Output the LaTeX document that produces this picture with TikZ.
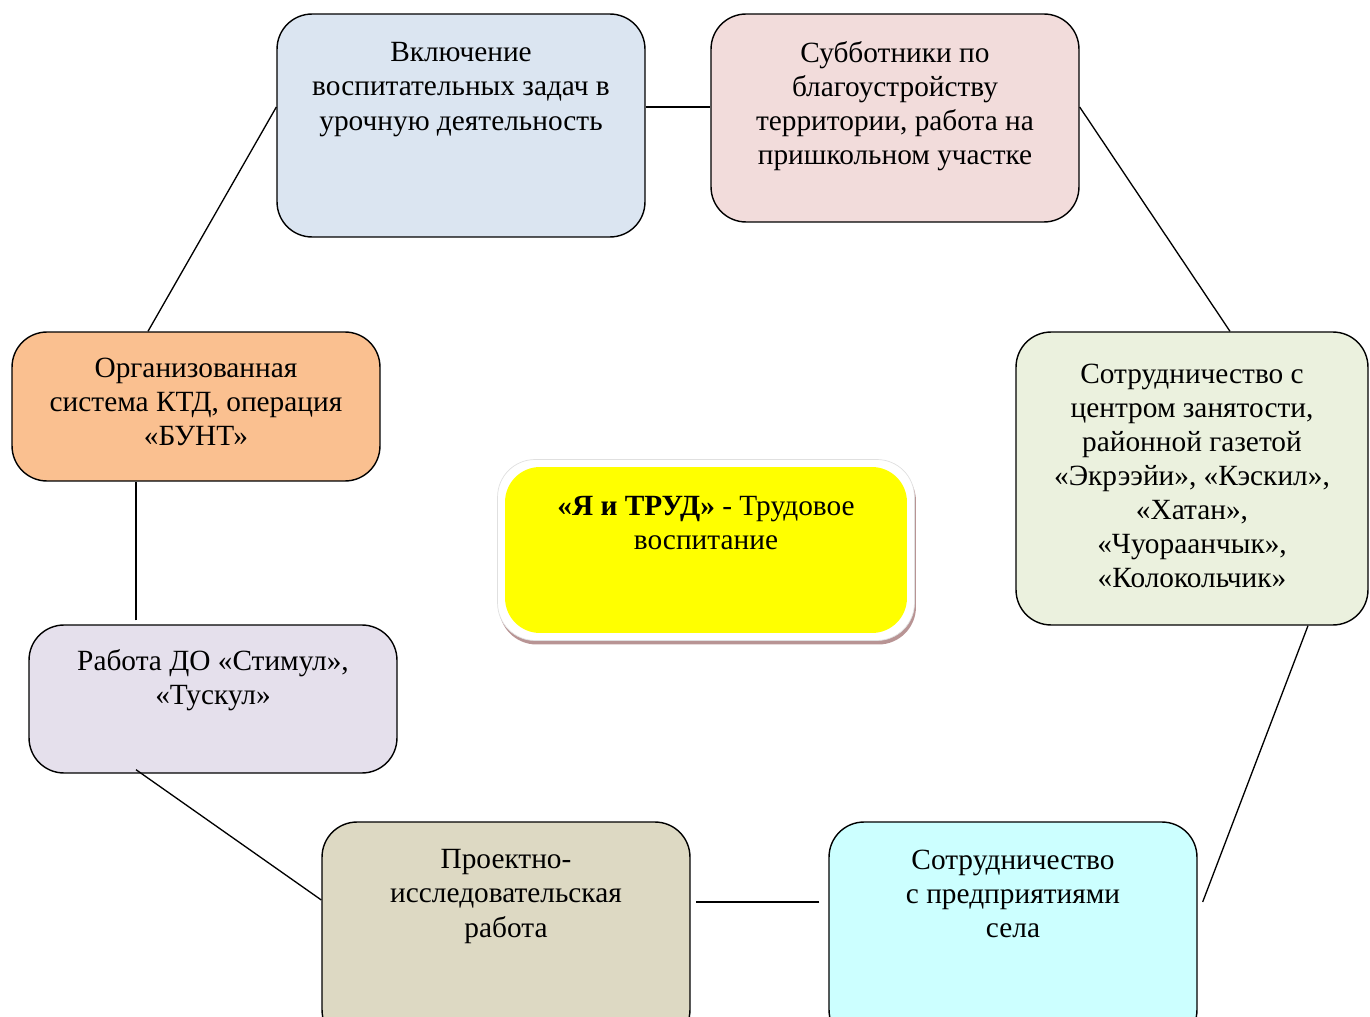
\documentclass[tikz,border=0pt]{standalone}
\usepackage{fontspec}
\setmainfont{Liberation Serif}
\usepackage{tikz}
\usetikzlibrary{shadows}
\definecolor{cUroch}{HTML}{DBE5F1}
\definecolor{cSubb}{HTML}{F2DCDB}
\definecolor{cCentr}{HTML}{EBF1DE}
\definecolor{cPredp}{HTML}{CCFFFF}
\definecolor{cProekt}{HTML}{DDD9C3}
\definecolor{cStim}{HTML}{E5E0EC}
\definecolor{cKtd}{HTML}{FAC090}
\definecolor{cTrud}{HTML}{FFFF00}
\definecolor{cShadow}{HTML}{B89494}

\begin{document}
\begin{tikzpicture}[x=0.02cm,y=-0.02cm]
                      \tikzstyle{box}=[rectangle,rounded corners=0.7cm,draw=black,line width=0.8pt,inner sep=0pt,minimum width=7.36cm]
                      \tikzstyle{txt}=[align=center,inner sep=0pt,anchor=north,font=\fontsize{16.7}{19.4}\selectfont]
                      \tikzstyle{link}=[line width=0.75pt]
                      \clip (0,0) rectangle (1370,1017);
                      \useasboundingbox (0,0) rectangle (1370,1017);
                      \node[box,fill=cUroch,minimum height=4.46cm] (uroch) at (461,125.5) {};
                      \node[box,fill=cSubb,minimum height=4.16cm] (subb) at (895,118) {};
                      \node[box,fill=cCentr,minimum width=7.04cm,minimum height=5.86cm] (centr) at (1192,478.5) {};
                      \node[box,fill=cPredp,minimum height=4.46cm] (predp) at (1013,933.5) {};
                      \node[box,fill=cProekt,minimum height=4.46cm] (proekt) at (506,933.5) {};
                      \node[box,fill=cStim,minimum height=2.96cm] (stim) at (213,699) {};
                      \node[box,fill=cKtd,minimum height=2.98cm] (ktd) at (196,406.5) {};
                      \node[box,fill=white,draw=black!12,line width=0.4pt,rounded corners=0.75cm,minimum width=8.34cm,minimum height=3.62cm,
                            drop shadow={fill=cShadow,opacity=1,shadow xshift=0.03cm,shadow yshift=-0.08cm}] (trudFrame) at (706,550) {};
                      \node[box,fill=cTrud,draw=none,minimum width=8.04cm,minimum height=3.32cm] (trud) at (706,550) {};
                      \node[txt] (tUroch) at ([yshift=-0.58cm]uroch.north) {Включение\\воспитательных задач в\\урочную деятельность};
                      \node[txt] (tSubb) at ([yshift=-0.56cm]subb.north) {Субботники по\\благоустройству\\территории, работа на\\пришкольном участке};
                      \node[txt] (tCentr) at ([yshift=-0.64cm]centr.north) {Сотрудничество с\\центром занятости,\\районной газетой\\«Экрээйи», «Кэскил»,\\«Хатан»,\\«Чуораанчык»,\\«Колокольчик»};
                      \node[txt] (tPredp) at ([yshift=-0.56cm]predp.north) {Сотрудничество\\с предприятиями\\села};
                      \node[txt] (tProekt) at ([yshift=-0.56cm]proekt.north) {Проектно-\\исследовательская\\работа};
                      \node[txt] (tStim) at ([yshift=-0.5cm]stim.north) {Работа ДО «Стимул»,\\«Тускул»};
                      \node[txt] (tKtd) at ([yshift=-0.52cm]ktd.north) {Организованная\\система КТД, операция\\«БУНТ»};
                      \node[txt] (tTrud) at ([yshift=-0.6cm]trud.north) {\textbf{«Я и ТРУД»} - Трудовое\\воспитание};
                      \draw[link] (uroch.west |- 0,107) -- (ktd.north -| 148,0);
                      \draw[link] (uroch.east |- 0,107) -- (subb.west |- 0,107);
                      \draw[link] (subb.east |- 0,107) -- (centr.north -| 1230,0);
                      \draw[link] (centr.south -| 1308,0) -- ([xshift=0.1cm]predp.east |- 0,902);
                      \draw[link] ([xshift=-0.18cm]predp.west |- 0,902) -- ([xshift=0.1cm]proekt.east |- 0,902);
                      \draw[link] (proekt.west |- 0,900) -- ([yshift=0.08cm]stim.south -| 136,0);
                      \draw[link] ([yshift=0.08cm]stim.north -| 136,0) -- (ktd.south -| 136,0);
\end{tikzpicture}
\end{document}
